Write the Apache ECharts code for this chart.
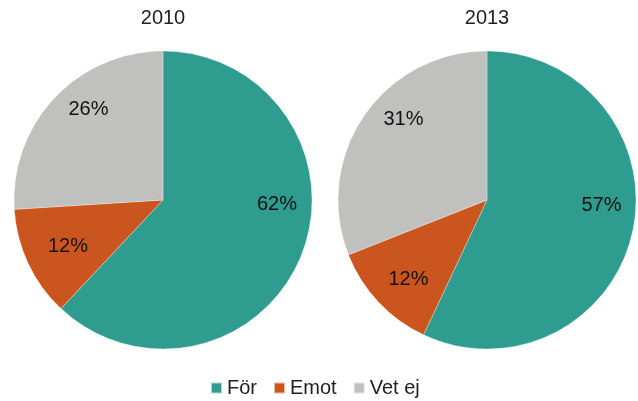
<!DOCTYPE html>
<html>
<head>
<meta charset="utf-8">
<script src="https://cdn.jsdelivr.net/npm/echarts@6/dist/echarts.min.js"></script>
<style>
html,body{margin:0;padding:0;background:#fff;}
#chart{width:638px;height:401px;}
</style>
</head>
<body>
<div id="chart"></div>
<script>
// Opinion shares per survey year
const categories = ['För', 'Emot', 'Vet ej'];
const years = ['2010', '2013'];
const values2010 = [62, 12, 26];
const values2013 = [57, 12, 31];
const colors = ['#2E9C8F', '#CB551E', '#C0C0BF'];

const seriesValues = [values2010, values2013];
const centers = [[163, 200], [487, 200]];
const radius = 149;

// label anchor offsets from each pie centre (px), one per slice
const labelOffsets = [
  [[114, 4.5], [-95, 46], [-74.5, -91]],
  [[114.5, 5.5], [-78.5, 79.5], [-83.5, -80.5]]
];

const chart = echarts.init(document.getElementById('chart'));
const font = '"Liberation Sans", Arial, sans-serif';

chart.setOption({
  color: colors,
  animation: false,
  title: years.map((y, i) => ({
    text: y,
    left: centers[i][0],
    top: 8,
    padding: 0,
    textAlign: 'center',
    textStyle: { fontFamily: font, fontSize: 20, fontWeight: 'normal', color: '#222' }
  })),
  legend: {
    top: 378,
    left: 210,
    padding: 0,
    itemWidth: 11,
    itemHeight: 11,
    itemGap: 16,
    icon: 'rect',
    textStyle: { fontFamily: font, fontSize: 20, color: '#222' },
    data: categories
  },
  series: seriesValues.map((vals, si) => ({
    type: 'pie',
    center: centers[si],
    radius: radius,
    startAngle: 90,
    clockwise: true,
    label: {
      show: true,
      position: 'inside',
      formatter: '{c}%',
      fontFamily: font,
      fontSize: 20,
      color: '#111'
    },
    labelLayout: function (p) {
      const off = labelOffsets[p.seriesIndex][p.dataIndex];
      const c = centers[p.seriesIndex];
      return { x: c[0] + off[0], y: c[1] + off[1], align: 'center', verticalAlign: 'middle' };
    },
    itemStyle: { borderColor: 'rgba(255,255,255,0.6)', borderWidth: 0.5 },
    emphasis: { disabled: true },
    data: categories.map((name, di) => ({ name: name, value: vals[di] }))
  }))
});
</script>
</body>
</html>
